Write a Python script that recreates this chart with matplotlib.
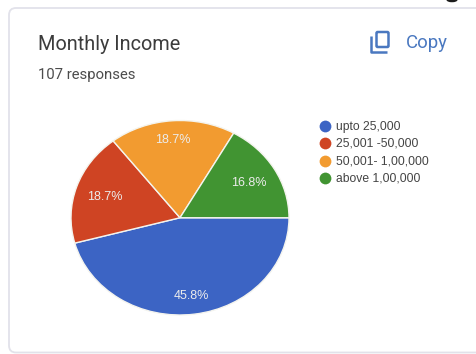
import matplotlib
matplotlib.use("Agg")
import matplotlib.pyplot as plt
from matplotlib.patches import FancyBboxPatch, Ellipse

W, H = 476, 354

categories = ["upto 25,000", "25,001 -50,000", "50,001- 1,00,000", "above 1,00,000"]
shares = [45.8, 18.7, 18.7, 16.8]
colors = ["#3c64c4", "#cf4423", "#f29b30", "#419432"]
title = "Monthly Income"
subtitle = "107 responses"
action = "Copy"

fig = plt.figure(figsize=(W / 100, H / 100), dpi=100, facecolor="white")

# Card layer measured in pixels, y running downward
page = fig.add_axes([0, 0, 1, 1], zorder=1)
page.set_xlim(0, W)
page.set_ylim(H, 0)
page.axis("off")

page.add_patch(FancyBboxPatch((9, 8), 500, 344.5, boxstyle="round,pad=0,rounding_size=7",
                              fc="white", ec="#e2e2ea", lw=1.3))
page.add_patch(Ellipse((452, 0), 11, 4.5, fc="#1c1c1c", ec="none"))

page.text(38.5, 44.5, title, family="Roboto", fontsize=14.3, color="#3c3c3c", va="center", ha="left")
page.text(38.5, 75, subtitle, family="Roboto", fontsize=10.7, color="#4c4c4c", va="center", ha="left")
page.text(405.5, 42.5, action, family="Roboto", fontsize=13.4, color="#4a78c0", va="center", ha="left")

# Copy icon: front square plus the open outline of the sheet behind it
icon = "#4a78c0"
page.add_patch(FancyBboxPatch((376.5, 32), 12, 15, boxstyle="round,pad=0,rounding_size=1.2",
                              fc="none", ec=icon, lw=1.8))
page.plot([371, 371, 387], [36, 52, 52], color=icon, lw=1.8, solid_capstyle="butt",
          solid_joinstyle="round")

# Pie is slightly wider than tall
left, right, top, bottom = 71, 289, 120.5, 315
pie_ax = fig.add_axes([left / W, 1 - bottom / H, (right - left) / W, (bottom - top) / H], zorder=2)
pie_ax.pie(shares, colors=colors, startangle=0, counterclock=False, radius=1,
           wedgeprops=dict(edgecolor="#f4f4ee", linewidth=1.0))
pie_ax.set_aspect("auto")
pie_ax.set_xlim(-1, 1)
pie_ax.set_ylim(-1, 1)

# Slice labels and legend share a pixel-space overlay above the pie
overlay = fig.add_axes([0, 0, 1, 1], zorder=3)
overlay.set_xlim(0, W)
overlay.set_ylim(H, 0)
overlay.axis("off")

label_xy = [(191, 296), (105, 196.5), (173, 140), (249, 183)]
for (x, y), share in zip(label_xy, shares):
    overlay.text(x, y, f"{share}%", family="Liberation Sans", fontsize=9.0, color="#ececec",
                 va="center", ha="center")

legend_y = [126, 143, 160.5, 178]
for y, name, col in zip(legend_y, categories, colors):
    overlay.scatter([325], [y], s=72, color=col, linewidths=0)
    overlay.text(336.5, y + 0.7, name, family="Liberation Sans", fontsize=8.7, color="#444444",
                 va="center", ha="left")

fig.savefig("out.png", dpi=100, facecolor=fig.get_facecolor())
